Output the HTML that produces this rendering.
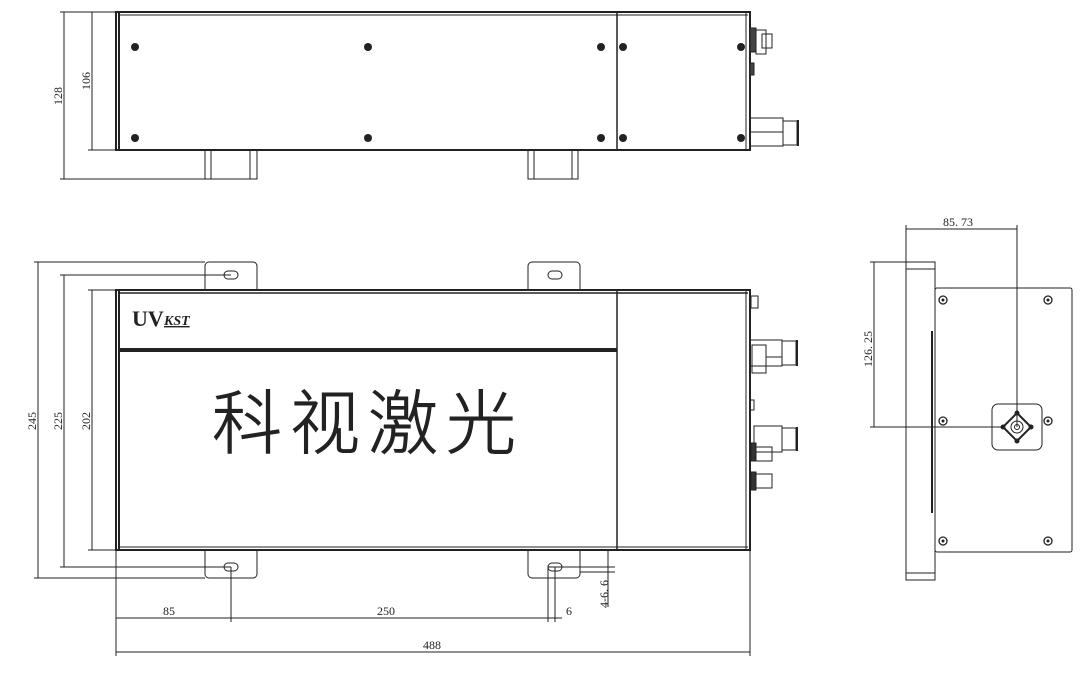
<!DOCTYPE html>
<html><head><meta charset="utf-8"><style>
html,body{margin:0;padding:0;background:#fff;}
svg{display:block}
text{font-family:"Liberation Serif",serif;fill:#222}
</style></head><body>
<svg width="1082" height="682" viewBox="0 0 1082 682" xmlns="http://www.w3.org/2000/svg">
<rect width="1082" height="682" fill="#fff"/>
<g stroke="#222" fill="none" stroke-width="1">
<rect x="116" y="12" width="634" height="138" stroke-width="2"/>
<line x1="118" y1="15" x2="748" y2="15"/>
<line x1="119" y1="12" x2="119" y2="150" stroke-width="2"/>
<line x1="617" y1="12" x2="617" y2="150" stroke-width="1.5"/>
<line x1="746" y1="12" x2="746" y2="150"/>
<rect x="205" y="150" width="52" height="29"/><line x1="211" y1="150" x2="211" y2="179"/><line x1="250" y1="150" x2="250" y2="179"/>
<rect x="528" y="150" width="50" height="29"/><line x1="534" y1="150" x2="534" y2="179"/><line x1="572" y1="150" x2="572" y2="179"/>
<rect x="750" y="28" width="6" height="24" fill="#444"/>
<rect x="756" y="30" width="10" height="24"/><rect x="762" y="34" width="10" height="14"/>
<rect x="750" y="63" width="4" height="12" fill="#444"/>
<rect x="750" y="118" width="33" height="28"/><line x1="750" y1="132" x2="783" y2="132"/>
<rect x="783" y="121" width="14" height="24"/><line x1="798" y1="120" x2="798" y2="146" stroke-width="2"/>
<line x1="60" y1="12" x2="116" y2="12"/><line x1="60" y1="179" x2="205" y2="179"/><line x1="88" y1="150" x2="116" y2="150"/>
<line x1="64" y1="12" x2="64" y2="179"/><line x1="92" y1="12" x2="92" y2="150"/>

<rect x="116" y="290" width="634" height="260" stroke-width="2"/>
<line x1="118" y1="293" x2="748" y2="293" stroke-width="1.5"/>
<line x1="119" y1="290" x2="119" y2="550" stroke-width="2"/>
<line x1="118" y1="547" x2="748" y2="547"/>
<line x1="617" y1="290" x2="617" y2="550" stroke-width="1.5"/>
<line x1="746" y1="290" x2="746" y2="550"/>
<line x1="118" y1="350" x2="617" y2="350" stroke-width="4"/>
<path d="M205 290 V266 a4 4 0 0 1 4 -4 H253 a4 4 0 0 1 4 4 V290"/>
<path d="M528 290 V266 a4 4 0 0 1 4 -4 H576 a4 4 0 0 1 4 4 V290"/>
<path d="M205 550 V574 a4 4 0 0 0 4 4 H253 a4 4 0 0 0 4 -4 V550"/>
<path d="M528 550 V574 a4 4 0 0 0 4 4 H576 a4 4 0 0 0 4 -4 V550"/>
<rect x="224" y="271" width="14" height="8" rx="4"/><rect x="548" y="271" width="14" height="8" rx="4"/>
<rect x="224" y="563" width="14" height="8" rx="4"/><rect x="548" y="563" width="14" height="8" rx="4"/>
<rect x="751" y="296" width="7" height="12"/>
<rect x="750" y="340" width="32" height="26"/><rect x="752" y="345" width="14" height="28"/><line x1="766" y1="357" x2="782" y2="357"/>
<rect x="782" y="341" width="14" height="24"/><line x1="797" y1="340" x2="797" y2="366" stroke-width="2"/>
<rect x="750" y="400" width="4" height="10"/>
<rect x="754" y="426" width="28" height="26"/><rect x="782" y="428" width="14" height="22"/><line x1="797" y1="427" x2="797" y2="451" stroke-width="2"/>
<rect x="751" y="443" width="5" height="18" fill="#333"/><rect x="756" y="447" width="16" height="14"/>
<rect x="751" y="472" width="5" height="18" fill="#333"/><rect x="756" y="474" width="16" height="14"/>
<line x1="34" y1="262" x2="205" y2="262"/><line x1="60" y1="275" x2="231" y2="275"/><line x1="88" y1="290" x2="116" y2="290"/>
<line x1="34" y1="578" x2="205" y2="578"/><line x1="60" y1="567" x2="231" y2="567"/><line x1="88" y1="550" x2="116" y2="550"/>
<line x1="38" y1="262" x2="38" y2="578"/><line x1="64" y1="275" x2="64" y2="567"/><line x1="92" y1="290" x2="92" y2="550"/>
<line x1="116" y1="550" x2="116" y2="656"/><line x1="750" y1="550" x2="750" y2="656"/>
<line x1="231" y1="567" x2="231" y2="622"/>
<line x1="548" y1="567" x2="548" y2="622"/><line x1="555" y1="567" x2="555" y2="622"/>
<line x1="116" y1="618" x2="562" y2="618"/>
<line x1="116" y1="652" x2="750" y2="652"/>
<line x1="548" y1="567" x2="615" y2="567"/><line x1="580" y1="572" x2="615" y2="572"/>
<line x1="608" y1="550" x2="608" y2="607"/>

<rect x="906" y="262" width="29" height="318"/>
<line x1="906" y1="269" x2="935" y2="269"/><line x1="906" y1="573" x2="935" y2="573"/>
<line x1="932" y1="331" x2="932" y2="513" stroke-width="2"/>
<rect x="935" y="288" width="137" height="264" rx="2"/>
<rect x="992" y="404" width="50" height="46" rx="6"/>
<path d="M1017 413 L1031 427 L1017 441 L1003 427 Z" stroke-width="2"/>
<circle cx="1017" cy="427" r="6"/><circle cx="1017" cy="427" r="2.5"/>
<line x1="906" y1="225" x2="906" y2="262"/><line x1="906" y1="229" x2="1017" y2="229"/><line x1="1017" y1="225" x2="1017" y2="427"/>
<line x1="870" y1="262" x2="906" y2="262"/><line x1="870" y1="427" x2="1003" y2="427"/><line x1="874" y1="262" x2="874" y2="427"/>
</g>
<g fill="#222">
<circle cx="135" cy="47" r="4"/><circle cx="368" cy="47" r="4"/><circle cx="601" cy="47" r="4"/><circle cx="623" cy="47" r="4"/><circle cx="741" cy="47" r="4"/>
<circle cx="135" cy="138" r="4"/><circle cx="368" cy="138" r="4"/><circle cx="601" cy="138" r="4"/><circle cx="623" cy="138" r="4"/><circle cx="741" cy="138" r="4"/>
<circle cx="1017" cy="413" r="2.5"/><circle cx="1017" cy="441" r="2.5"/><circle cx="1003" cy="427" r="2.5"/><circle cx="1031" cy="427" r="2.5"/>
</g>
<g fill="#fff" stroke="#222" stroke-width="1.3">
<circle cx="943" cy="300" r="4"/><circle cx="1048" cy="300" r="4"/><circle cx="943" cy="421" r="4"/><circle cx="1048" cy="421" r="4"/><circle cx="943" cy="541" r="4"/><circle cx="1048" cy="541" r="4"/>
</g>
<g fill="#222"><circle cx="943" cy="300" r="1.5"/><circle cx="1048" cy="300" r="1.5"/><circle cx="943" cy="421" r="1.5"/><circle cx="1048" cy="421" r="1.5"/><circle cx="943" cy="541" r="1.5"/><circle cx="1048" cy="541" r="1.5"/></g>
<g font-size="12">
<text transform="translate(62,105) rotate(-90)">128</text>
<text transform="translate(90,90) rotate(-90)">106</text>
<text transform="translate(36,430) rotate(-90)">245</text>
<text transform="translate(62,430) rotate(-90)">225</text>
<text transform="translate(90,430) rotate(-90)">202</text>
<text transform="translate(872,367) rotate(-90)">126. 25</text>
<text x="943" y="226">85. 73</text>
<text x="163" y="615">85</text>
<text x="377" y="615">250</text>
<text x="566" y="615">6</text>
<text x="423" y="649">488</text>
<text transform="translate(608,608) rotate(-90)">4-6. 6</text>
</g>
<text x="132" y="326" font-size="22" font-weight="bold">UV</text>
<text x="164" y="325" font-size="14" font-weight="bold" font-style="italic" text-decoration="underline">KST</text>
<text x="212" y="448" font-size="70" fill="#fff" stroke="#222" stroke-width="0.9" style="font-family:'Liberation Sans','Noto Sans CJK SC',sans-serif;font-weight:300;letter-spacing:8px">科视激光</text>
</svg>
</body></html>
